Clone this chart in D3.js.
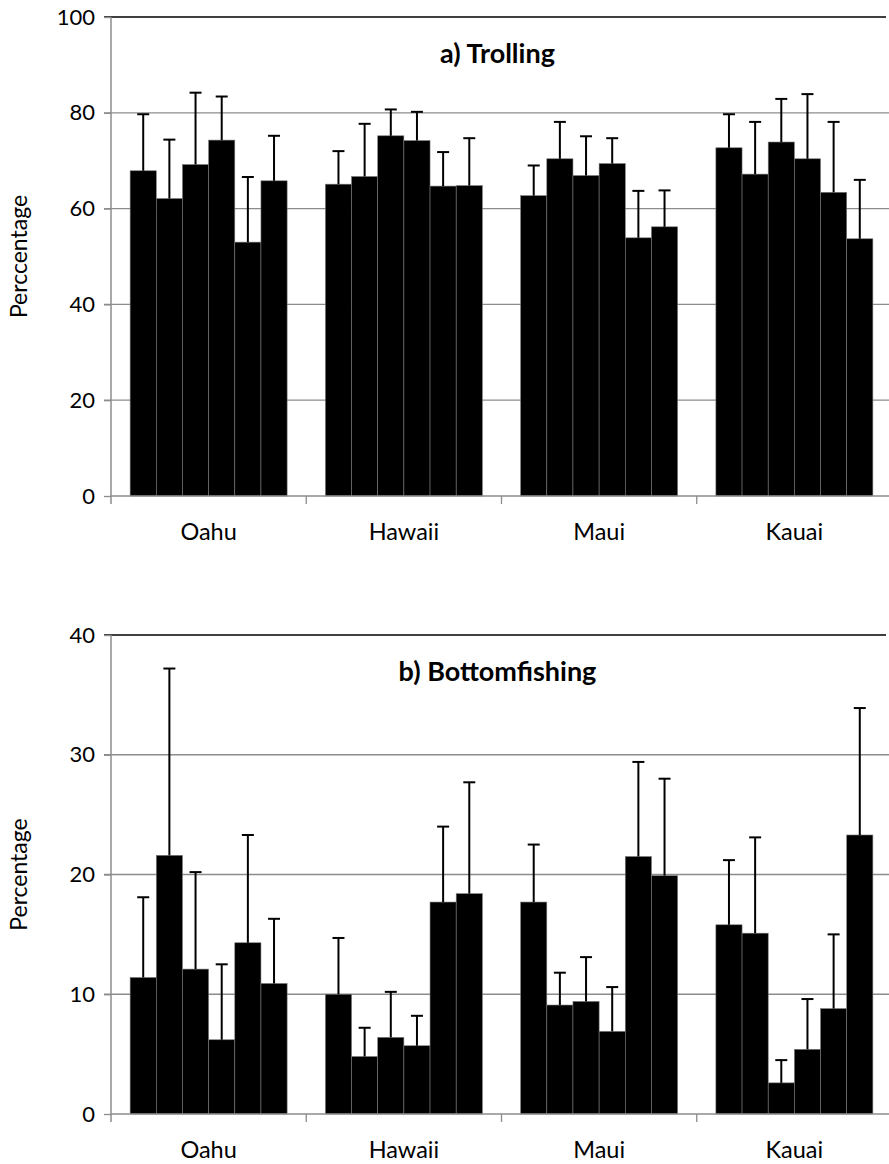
<!DOCTYPE html>
<html>
<head>
<meta charset="utf-8">
<script src="https://cdn.jsdelivr.net/npm/d3@7"></script>
<style>
  body { margin: 0; background: #fff; }
  svg { display: block; }
  text { font-family: Lato, "Open Sans", sans-serif; fill: #000; }
</style>
</head>
<body>
<div id="chart"></div>
<script>
// categories
const islands = ["Oahu", "Hawaii", "Maui", "Kauai"];
const seriesKeys = ["s1", "s2", "s3", "s4", "s5", "s6"];

// a) trolling - mean percentage per island (6 bars each)
const trollingMean = [
    [67.9, 62.1, 69.2, 74.3, 53.0, 65.8],
    [65.1, 66.7, 75.2, 74.2, 64.7, 64.8],
    [62.7, 70.4, 66.9, 69.4, 53.9, 56.2],
    [72.7, 67.2, 73.9, 70.4, 63.4, 53.7]
];
const trollingErr = [
    [11.8, 12.3, 15.0, 9.1, 13.6, 9.4],
    [6.9, 11.0, 5.5, 6.0, 7.1, 9.9],
    [6.3, 7.7, 8.2, 5.3, 9.8, 7.6],
    [7.0, 10.9, 9.0, 13.5, 14.7, 12.3]
];
const trollingTicks = [0, 20, 40, 60, 80, 100];

// b) bottomfishing
const bottomMean = [
    [11.4, 21.6, 12.1, 6.2, 14.3, 10.9],
    [10.0, 4.8, 6.4, 5.7, 17.7, 18.4],
    [17.7, 9.1, 9.4, 6.9, 21.5, 19.9],
    [15.8, 15.1, 2.6, 5.4, 8.8, 23.3]
];
const bottomErr = [
    [6.7, 15.6, 8.1, 6.3, 9.0, 5.4],
    [4.7, 2.4, 3.8, 2.5, 6.3, 9.3],
    [4.8, 2.7, 3.7, 3.7, 7.9, 8.1],
    [5.4, 8.0, 1.9, 4.2, 6.2, 10.6]
];
const bottomTicks = [0, 10, 20, 30, 40];

const W = 889, H = 1164;
const left = 111, right = 892;

const svg = d3.select("#chart")
    .append("svg")
    .attr("width", W)
    .attr("height", H);

function drawPanel(opts) {
    const g = svg.append("g");

    const y = d3.scaleLinear()
        .domain([0, opts.ticks[opts.ticks.length - 1]])
        .range([opts.bottom, opts.top]);

    const x0 = d3.scaleBand()
        .domain(islands)
        .range([left, right])
        .paddingInner(0.196)
        .paddingOuter(0.098);

    const x1 = d3.scaleBand()
        .domain(seriesKeys)
        .range([0, x0.bandwidth()]);

    // gridlines
    g.append("g")
        .selectAll("line")
        .data(opts.ticks.slice(1, -1))
        .join("line")
        .attr("x1", left - 7)
        .attr("x2", right)
        .attr("y1", d => y(d))
        .attr("y2", d => y(d))
        .attr("stroke", "#8c8c8c")
        .attr("stroke-width", 1.3);

    // top border
    g.append("line")
        .attr("x1", left - 7).attr("x2", 886)
        .attr("y1", opts.top).attr("y2", opts.top)
        .attr("stroke", "#000").attr("stroke-width", 1.5);

    const rows = [];
    islands.forEach((isl, i) => {
        seriesKeys.forEach((k, j) => {
            rows.push({ island: isl, key: k, v: opts.mean[i][j], e: opts.err[i][j] });
        });
    });

    // bars
    g.append("g")
        .selectAll("rect")
        .data(rows)
        .join("rect")
        .attr("x", d => x0(d.island) + x1(d.key))
        .attr("y", d => y(d.v))
        .attr("width", x1.bandwidth())
        .attr("height", d => y(0) - y(d.v))
        .attr("fill", "#000")
        .attr("stroke", "#7a7a7a")
        .attr("stroke-width", 0.6);

    // error bars (upper only)
    const eb = g.append("g")
        .selectAll("g")
        .data(rows)
        .join("g")
        .attr("transform", d => `translate(${x0(d.island) + x1(d.key) + x1.bandwidth() / 2},0)`);
    eb.append("line")
        .attr("y1", d => y(d.v))
        .attr("y2", d => y(d.v + d.e))
        .attr("stroke", "#000")
        .attr("stroke-width", 2);
    eb.append("line")
        .attr("x1", -6).attr("x2", 6)
        .attr("y1", d => y(d.v + d.e))
        .attr("y2", d => y(d.v + d.e))
        .attr("stroke", "#000")
        .attr("stroke-width", 2);

    // y axis
    const yAxis = g.append("g")
        .attr("transform", `translate(${left},0)`)
        .call(d3.axisLeft(y).tickValues(opts.ticks).tickSize(7).tickPadding(9));
    yAxis.select(".domain").attr("stroke", "#8c8c8c").attr("stroke-width", 1.5)
        .attr("d", `M0,${opts.top}V${opts.bottom + 8}`);
    yAxis.selectAll(".tick line").attr("stroke", "#8c8c8c").attr("stroke-width", 1.3);
    yAxis.selectAll(".tick text").attr("font-size", 22).attr("font-family", "Lato");

    // x axis
    const bounds = d3.range(1, islands.length).map(i => x0.range()[0] + i * x0.step());
    const xAxis = g.append("g");
    xAxis.append("line")
        .attr("x1", left).attr("x2", right)
        .attr("y1", opts.bottom).attr("y2", opts.bottom)
        .attr("stroke", "#8c8c8c").attr("stroke-width", 1.5);
    xAxis.selectAll("line.tk")
        .data(bounds)
        .join("line")
        .attr("class", "tk")
        .attr("x1", d => d).attr("x2", d => d)
        .attr("y1", opts.bottom).attr("y2", opts.bottom + 8)
        .attr("stroke", "#8c8c8c").attr("stroke-width", 1.3);
    xAxis.selectAll("text")
        .data(islands)
        .join("text")
        .attr("x", d => x0(d) + x0.bandwidth() / 2)
        .attr("y", opts.bottom + 44)
        .attr("text-anchor", "middle")
        .attr("font-size", 23.5)
        .text(d => d);

    // title
    g.append("text")
        .attr("x", (left + right) / 2 - 4)
        .attr("y", opts.top + 46)
        .attr("text-anchor", "middle")
        .attr("font-size", 27)
        .attr("font-weight", "bold")
        .text(opts.title);

    // y label
    g.append("text")
        .attr("transform", `translate(27,${(opts.top + opts.bottom) / 2}) rotate(-90)`)
        .attr("text-anchor", "middle")
        .attr("font-size", 23)
        .text(opts.ylabel);
}

drawPanel({ top: 17, bottom: 496, mean: trollingMean, err: trollingErr, ticks: trollingTicks,
    title: "a) Trolling", ylabel: "Perccentage" });
drawPanel({ top: 635, bottom: 1114, mean: bottomMean, err: bottomErr, ticks: bottomTicks,
    title: "b) Bottomfishing", ylabel: "Percentage" });
</script>
</body>
</html>
